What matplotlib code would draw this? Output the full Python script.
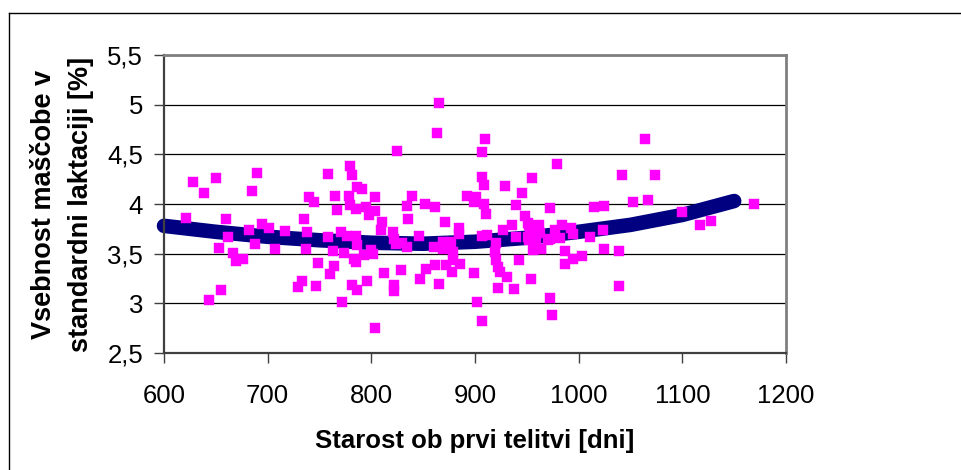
import matplotlib
matplotlib.use('Agg')
import matplotlib.pyplot as plt
from matplotlib.lines import Line2D

plt.rcParams['font.family'] = ['Liberation Sans', 'DejaVu Sans']

# ---- data ----
age_days = [
    621, 628, 639, 650, 660, 662, 653, 667, 669, 676, 655, 643, 690, 685, 682,
    688, 695, 701, 707, 717, 735, 740, 745, 738, 737, 733, 729, 747, 749, 758,
    765, 767, 758, 763, 764, 760, 772, 771, 774, 779, 781, 778, 786, 791, 779,
    785, 795, 798, 777, 785, 786, 783, 785, 793, 781, 786, 796,
    804, 804, 800, 802, 804, 810, 809, 812, 821, 822, 824, 830, 834, 829, 822,
    822, 825, 834, 839, 835, 846, 847, 852, 853, 861, 861, 865, 863, 865, 871,
    869, 877, 860, 869, 872, 878, 879, 879, 886, 885, 885, 892, 899, 901, 899,
    902, 907, 907, 910, 907, 909, 909, 911, 907, 912, 919, 920, 922, 924, 931,
    922, 920, 927, 929, 936, 938, 940, 940, 942, 945, 948, 951, 952, 954, 955,
    956, 958, 962, 963, 964, 972, 972, 972, 974, 977, 979, 982, 984, 987, 987,
    993, 995, 995, 951, 953, 952, 959, 964, 970,
    1003, 1011, 1015, 1023, 1024, 1024, 1039, 1039, 1042, 1052, 1064, 1067,
    1074, 1100, 1117, 1128, 1169,
]
fat_pct = [
    3.86, 4.22, 4.11, 4.26, 3.85, 3.67, 3.56, 3.51, 3.43, 3.45, 3.13, 3.03, 4.31, 4.13, 3.74,
    3.60, 3.80, 3.76, 3.55, 3.73, 3.85, 4.07, 4.02, 3.72, 3.55, 3.22, 3.16, 3.17, 3.41, 4.30,
    4.08, 3.94, 3.67, 3.53, 3.38, 3.30, 3.01, 3.72, 3.51, 4.38, 4.29, 4.08, 4.17, 4.15, 3.99,
    3.95, 3.97, 3.89, 3.68, 3.68, 3.59, 3.45, 3.42, 3.49, 3.18, 3.13, 3.22,
    4.07, 2.75, 3.54, 3.50, 3.93, 3.82, 3.74, 3.31, 3.72, 3.65, 3.60, 3.61, 3.57, 3.34, 3.18,
    3.12, 4.53, 3.98, 4.08, 3.85, 3.68, 3.24, 4.00, 3.35, 3.97, 3.39, 3.19, 4.71, 5.02, 3.82,
    3.62, 3.62, 3.57, 3.55, 3.39, 3.32, 3.52, 3.44, 3.40, 3.76, 3.70, 4.08, 4.02, 4.07, 3.31,
    3.01, 2.82, 4.52, 4.65, 4.27, 4.19, 4.00, 3.90, 3.68, 3.69, 3.52, 3.44, 3.37, 3.32, 3.27,
    3.15, 3.61, 3.74, 4.18, 3.79, 3.14, 3.99, 3.67, 3.44, 4.11, 3.88, 3.67, 3.79, 3.24, 4.26,
    3.54, 3.64, 3.79, 3.71, 3.55, 3.65, 3.96, 3.05, 2.88, 3.74, 4.40, 3.66, 3.79, 3.53, 3.40,
    3.76, 3.70, 3.45, 3.81, 3.72, 3.64, 3.64, 3.55, 3.64,
    3.48, 3.67, 3.97, 3.74, 3.98, 3.55, 3.53, 3.17, 4.29, 4.02, 4.65, 4.04,
    4.29, 3.92, 3.79, 3.83, 4.00,
]

trend_age = [600, 650, 700, 750, 800, 850, 900, 950, 1000, 1050, 1100, 1150]
trend_fat = [3.78, 3.72, 3.67, 3.635, 3.61, 3.60, 3.62, 3.66, 3.72, 3.79, 3.89, 4.03]

x_ticks = [600, 700, 800, 900, 1000, 1100, 1200]
x_tick_labels = ['600', '700', '800', '900', '1000', '1100', '1200']
y_ticks = [2.5, 3.0, 3.5, 4.0, 4.5, 5.0, 5.5]
y_tick_labels = ['2,5', '3', '3,5', '4', '4,5', '5', '5,5']

x_title = 'Starost ob prvi telitvi [dni]'
y_title = 'Vsebnost maščobe v\nstandardni laktaciji [%]'

# ---- figure ----
W, H = 962, 470
fig = plt.figure(figsize=(W / 100, H / 100), dpi=100)
ax = fig.add_axes([164 / W, 117 / H, 622 / W, 298 / H])

ax.plot(trend_age, trend_fat, color='#000080', lw=10.5,
        solid_capstyle='round', zorder=2, clip_on=False)
ax.plot(age_days, fat_pct, linestyle='none', marker='s', ms=6.9,
        mfc='#FF00FF', mec='#FF00FF', mew=0.3, zorder=3)

ax.set_xlim(600, 1200)
ax.set_ylim(2.5, 5.5)
ax.set_xticks(x_ticks)
ax.set_xticklabels(x_tick_labels)
ax.set_yticks(y_ticks)
ax.set_yticklabels(y_tick_labels)

ax.yaxis.grid(True, color='black', lw=0.9)
ax.set_axisbelow(True)

for s in ('top', 'right'):
    ax.spines[s].set_color('#808080')
    ax.spines[s].set_linewidth(2)
for s in ('left', 'bottom'):
    ax.spines[s].set_color('#404040')
    ax.spines[s].set_linewidth(1.6)

ax.tick_params(axis='both', direction='out', length=7, width=1,
               color='#404040', labelcolor='black')
ax.tick_params(axis='x', pad=15.5, labelsize=18.5)
ax.tick_params(axis='y', pad=8, labelsize=18.5)

ax.set_xlabel(x_title, fontsize=18.5, fontweight='bold')
ax.xaxis.set_label_coords(0.5, -0.255)
ax.set_ylabel(y_title, fontsize=19.5, fontweight='bold', linespacing=1.55)
ax.yaxis.set_label_coords(-0.113, 0.5)

# outer chart border (left and top edges visible)
fig.add_artist(Line2D([8.5 / W, 8.5 / W], [0, 1 - 12.5 / H],
                      transform=fig.transFigure, color='black', lw=1))
fig.add_artist(Line2D([8.5 / W, 1], [1 - 12.5 / H, 1 - 12.5 / H],
                      transform=fig.transFigure, color='black', lw=1))

fig.savefig('out.png', dpi=100)
